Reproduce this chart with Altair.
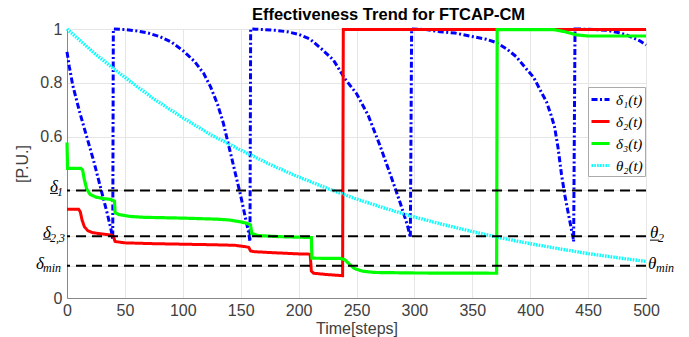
import altair as alt
import pandas as pd

# ---------------- data ----------------
series_names = ["δ₁(t)", "δ₂(t)", "δ₃(t)", "θ₂(t)"]
series_colors = ["#0000ff", "#ff0000", "#00ff00", "#00ffff"]

d1_t = [0, 2, 5, 8, 11, 14, 17, 20, 23, 26, 29, 32, 35, 38, 39.5,
        40, 50, 60, 70, 80, 90, 100, 110, 118, 124, 130, 135, 140, 145, 150, 154, 157, 158,
        158.6, 170, 180, 190, 200, 210, 220, 230, 240, 250, 260, 270, 280, 288, 294, 296.5,
        297.6, 310, 322, 335, 351, 362, 371, 380, 388, 396, 403, 409, 414, 418, 421, 424, 427, 430, 434, 437, 437.5,
        438.7, 450, 466, 475, 483, 490, 495, 500]
d1_v = [0.915, 0.86, 0.79, 0.74, 0.69, 0.645, 0.60, 0.555, 0.51, 0.46, 0.41, 0.36, 0.31, 0.255, 0.22,
        1.0, 0.998, 0.993, 0.985, 0.972, 0.952, 0.92, 0.88, 0.835, 0.785, 0.72, 0.65, 0.56, 0.47, 0.38, 0.30, 0.24, 0.21,
        1.0, 0.998, 0.995, 0.99, 0.98, 0.962, 0.925, 0.885, 0.815, 0.76, 0.68, 0.57, 0.45, 0.35, 0.27, 0.225,
        1.0, 0.998, 0.99, 0.985, 0.971, 0.962, 0.949, 0.925, 0.897, 0.855, 0.82, 0.77, 0.73, 0.68, 0.637, 0.56, 0.46, 0.38, 0.29, 0.225, 0.21,
        1.0, 0.999, 0.995, 0.988, 0.978, 0.965, 0.955, 0.94]

d2_t = [0, 10, 11.5, 13, 15, 18, 22, 30, 38, 40, 41.5, 50, 75, 100, 125, 145, 155, 157,
        158.5, 162, 180, 200, 210, 211, 213, 225, 238, 238.6, 300, 400, 500]
d2_v = [0.33, 0.33, 0.32, 0.29, 0.265, 0.25, 0.243, 0.238, 0.234, 0.23, 0.21, 0.205, 0.202, 0.2, 0.198, 0.196, 0.19, 0.188,
        0.175, 0.172, 0.168, 0.164, 0.163, 0.1, 0.092, 0.087, 0.083, 0.998, 0.998, 0.998, 0.998]

d3_t = [0, 0.5, 12, 13.5, 15, 17, 20, 25, 31, 38, 41, 41.5, 45, 55, 66, 100, 130, 140, 150, 155,
        158.5, 159.5, 165, 184, 210, 211, 211.5, 236, 240, 244, 248, 255, 265, 300, 371,
        371.5, 420, 430, 440, 450, 500]
d3_v = [0.578, 0.482, 0.482, 0.475, 0.44, 0.405, 0.385, 0.375, 0.37, 0.366, 0.36, 0.317, 0.31, 0.303, 0.30, 0.297, 0.293, 0.29, 0.283, 0.278,
        0.272, 0.24, 0.232, 0.228, 0.225, 0.225, 0.148, 0.147, 0.142, 0.125, 0.11, 0.10, 0.095, 0.093, 0.092,
        0.998, 0.998, 0.99, 0.978, 0.974, 0.974]

th_t = [0, 25, 50, 75, 100, 125, 150, 175, 200, 225, 250, 275, 300, 325, 350, 375, 400, 425, 450, 475, 500]
th_v = [1.0, 0.905, 0.82, 0.74, 0.67, 0.605, 0.55, 0.497, 0.45, 0.407, 0.368, 0.333, 0.301, 0.273,
        0.247, 0.223, 0.202, 0.183, 0.165, 0.15, 0.136]

threshold_vals = [0.4, 0.23, 0.12]
x_ticks = [0, 50, 100, 150, 200, 250, 300, 350, 400, 450, 500]
y_ticks = [0, 0.12, 0.23, 0.4, 0.6, 0.8, 1]

# ---------------- build ----------------
rows = []
for name, ts, vs in zip(series_names, [d1_t, d2_t, d3_t, th_t], [d1_v, d2_v, d3_v, th_v]):
    for i, (t, v) in enumerate(zip(ts, vs)):
        rows.append({"series": name, "t": t, "v": v, "o": i})
df = pd.DataFrame(rows)

x_scale = alt.Scale(domain=[0, 500], nice=False, zero=False)
y_scale = alt.Scale(domain=[0, 1], nice=False)

legend = alt.Legend(
    title=None, orient="none", legendX=521, legendY=58,
    symbolType="stroke", symbolSize=324, symbolStrokeWidth=3,
    labelFont="Liberation Serif", labelFontStyle="italic", labelFontSize=15,
    labelColor="black", fillColor="white", strokeColor="#aaaaaa",
    padding=2, rowPadding=3, labelOffset=5,
)
color_enc = alt.Color("series:N", scale=alt.Scale(domain=series_names, range=series_colors), legend=legend)
dash_enc = alt.StrokeDash("series:N", scale=alt.Scale(domain=series_names,
                          range=[[6, 2.5, 2, 2.5], [1, 0], [1, 0], [1.6, 1.2]]), legend=legend)

FONT = "Liberation Sans"
x_axis = alt.Axis(values=x_ticks, title="Time[steps]", grid=True, ticks=False, labelFlush=False,
                  labelPadding=4, titlePadding=2)
y_axis = alt.Axis(values=y_ticks, title="[P.U.]", grid=True, ticks=False, labelFlush=False,
                  format="~g", labelExpr="datum.value == 0 || datum.value >= 0.6 ? datum.label : ''",
                  labelPadding=5, titleX=-45, titleY=134.5, titleBaseline="middle")


def X(field):
    return alt.X(field, scale=x_scale, axis=x_axis, title="Time[steps]")


def Y(field):
    return alt.Y(field, scale=y_scale, axis=y_axis, title="[P.U.]")


layers = []
widths = [3, 3, 3.2, 3.4]
for name, w in zip(series_names, widths):
    layers.append(
        alt.Chart(df).transform_filter(alt.datum.series == name)
        .mark_line(strokeWidth=w)
        .encode(x=X("t:Q"), y=Y("v:Q"), color=color_enc, strokeDash=dash_enc, order="o:Q")
    )

thr = alt.Chart(pd.DataFrame({"v": threshold_vals})).mark_rule(
    color="black", strokeDash=[10, 6], strokeWidth=2
).encode(y=Y("v:Q"))
layers.append(thr)


def txt(s, value, x, dy, size):
    return alt.Chart(pd.DataFrame({"v": [value]})).mark_text(
        text=s, align="left", baseline="alphabetic", dy=dy, font="Liberation Serif",
        fontStyle="italic", fontSize=size, color="black"
    ).encode(y=Y("v:Q"), x=alt.value(x))


def uline(value, x1, x2, off):
    return alt.Chart(pd.DataFrame({"v": [value]})).mark_rule(
        color="black", strokeWidth=1, yOffset=off
    ).encode(y=Y("v:Q"), x=alt.value(x1), x2=alt.value(x2))


d_1, d_23, d_min = threshold_vals
layers += [
    txt("δ", d_1, -17, 2, 17), txt("1", d_1, -10, 6, 12), uline(d_1, -17, -9, 3),
    txt("δ", d_23, -24, 2, 17), txt("2,3", d_23, -17, 6, 12), uline(d_23, -24, -16, 3),
    txt("δ", d_min, -31, 3, 17), txt("min", d_min, -24, 6, 12),
    txt("θ", d_23, 583, 2, 17), txt("2", d_23, 591, 6, 12), uline(d_23, 583, 592, 4),
    txt("θ", d_min, 581, 3, 17), txt("min", d_min, 589, 6, 12),
]

chart = alt.layer(*layers).properties(
    width=579, height=269,
    autosize=alt.AutoSizeParams(type="none"),
    padding={"left": 67, "top": 29, "right": 43, "bottom": 39},
    title=alt.TitleParams("Effectiveness Trend for FTCAP-CM", fontSize=16.5, fontWeight="bold",
                          font=FONT, color="black", anchor="middle", offset=5, dx=32, dy=7),
).configure_view(stroke="#888888", strokeWidth=1).configure_axis(
    labelFont=FONT, labelFontSize=16, labelColor="#404040",
    titleFont=FONT, titleFontSize=16, titleFontWeight="normal", titleColor="#404040",
    domainColor="#888888", gridColor="#e6e6e6", gridWidth=1,
)

chart.save("out.html", embed_options={"renderer": "svg", "actions": False})
